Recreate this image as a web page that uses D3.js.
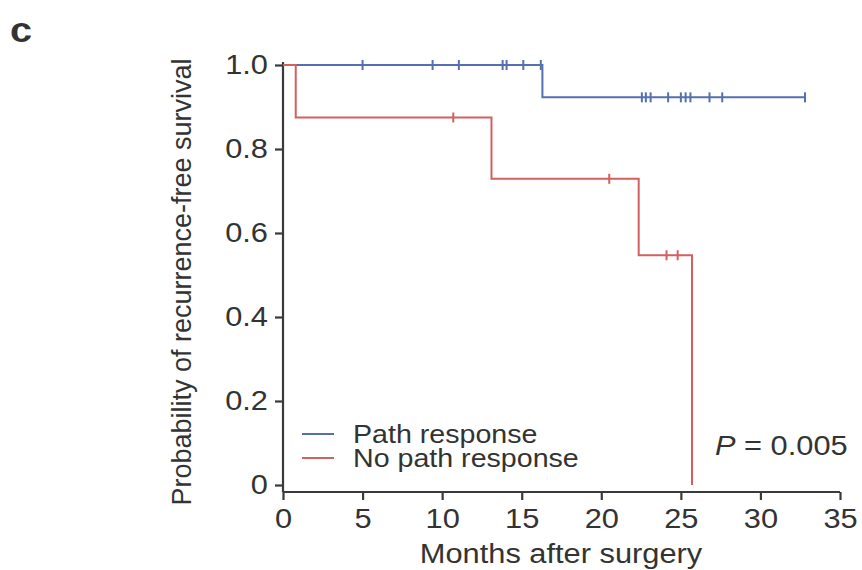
<!DOCTYPE html>
<html>
<head>
<meta charset="utf-8">
<script src="https://d3js.org/d3.v7.min.js"></script>
<style>
  body { margin: 0; background: #fff; }
  svg text { font-family: "Liberation Sans", Arial, sans-serif; fill: #333; }
</style>
</head>
<body>
<svg width="862" height="570"></svg>
<script>
// Kaplan-Meier steps
const pathTimes = [0, 16.3, 32.8];
const pathSurv = [1.0, 0.923, 0.923];
const pathCensor = [5.0, 9.4, 11.05, 13.8, 14.05, 15.1, 16.2, 22.55, 22.8, 23.1, 24.2, 25.0, 25.3, 25.6, 26.8, 27.6, 32.8];

const noPathTimes = [0, 0.8, 13.1, 22.35, 25.7, 25.7];
const noPathSurv = [1.0, 0.875, 0.729, 0.547, 0.547, 0.0];
const noPathCensor = [10.7, 20.5, 24.1, 24.8];

const xTicks = [0, 5, 10, 15, 20, 25, 30, 35];
const yTicks = [0, 0.2, 0.4, 0.6, 0.8, 1.0];
const legendLabels = ["Path response", "No path response"];
const colors = ["#5470b0", "#d2605f"];

const svg = d3.select("svg");
const x = d3.scaleLinear().domain([0, 35]).range([283, 840]);
const y = d3.scaleLinear().domain([0, 1]).range([485, 65]);
const SX = 1.1; // the figure's type is a bit wide

// survival at time t (step function)
function survAt(times, surv, t) {
  const i = d3.bisectRight(times, t) - 1;
  return surv[Math.max(0, i)];
}

// move x/y into a transform so text can be stretched sideways
function stretch(sel) {
  sel.each(function() {
    const t = d3.select(this);
    const tx = +t.attr("x") || 0, ty = +t.attr("y") || 0;
    t.attr("x", 0).attr("y", 0)
      .attr("transform", "translate(" + tx + "," + ty + ") scale(" + SX + ",1)");
  });
}

// axes
const yAxis = svg.append("g").attr("transform", "translate(283,0)")
  .call(d3.axisLeft(y).tickValues(yTicks).tickSize(8).tickPadding(7)
    .tickFormat(d => d === 0 ? "0" : d3.format(".1f")(d)));
yAxis.select(".domain").attr("d", "M0,62V492");

const xAxis = svg.append("g").attr("transform", "translate(0,492)")
  .call(d3.axisBottom(x).tickValues(xTicks).tickSize(8).tickPadding(8));
xAxis.select(".domain").attr("d", "M283,0H840");

svg.selectAll(".tick line, .domain").attr("stroke", "#3a3a3a").attr("stroke-width", 2.2);
svg.selectAll(".tick text").attr("font-size", 28).attr("fill", "#333")
  .attr("font-family", "Liberation Sans, Arial, sans-serif");
stretch(svg.selectAll(".tick text"));

// curves
const line = d3.line().x(d => x(d[0])).y(d => y(d[1])).curve(d3.curveStepAfter);
const groups = [
  {times: pathTimes, surv: pathSurv, cens: pathCensor, color: colors[0]},
  {times: noPathTimes, surv: noPathSurv, cens: noPathCensor, color: colors[1]}
];
groups.forEach(g => {
  svg.append("path")
    .datum(g.times.map((t, i) => [t, g.surv[i]]))
    .attr("d", line).attr("fill", "none")
    .attr("stroke", g.color).attr("stroke-width", 2);
  svg.selectAll(null).data(g.cens).enter().append("line")
    .attr("x1", d => x(d)).attr("x2", d => x(d))
    .attr("y1", d => y(survAt(g.times, g.surv, d)) - 5)
    .attr("y2", d => y(survAt(g.times, g.surv, d)) + 5)
    .attr("stroke", g.color).attr("stroke-width", 2);
});

// legend
legendLabels.forEach((lab, i) => {
  const ly = 434 + i * 24;
  svg.append("line").attr("x1", 302).attr("x2", 334).attr("y1", ly).attr("y2", ly)
    .attr("stroke", colors[i]).attr("stroke-width", 2);
  svg.append("text").attr("x", 353).attr("y", ly + 9).attr("font-size", 26)
    .attr("class", "wide").text(lab);
});

// p-value
const pt = svg.append("text").attr("x", 715).attr("y", 455).attr("font-size", 28)
  .attr("class", "wide");
pt.append("tspan").attr("font-style", "italic").text("P");
pt.append("tspan").text(" = 0.005");

// axis titles
svg.append("text").attr("x", 561).attr("y", 563).attr("text-anchor", "middle")
  .attr("font-size", 28).attr("class", "wide").text("Months after surgery");
svg.append("text").attr("transform", "translate(191,282) rotate(-90)")
  .attr("text-anchor", "middle").attr("font-size", 27)
  .text("Probability of recurrence-free survival");

// panel letter
svg.append("text").attr("x", 10).attr("y", 42).attr("font-size", 36)
  .attr("font-weight", "bold").attr("fill", "#111").attr("class", "wide").text("c");

stretch(svg.selectAll("text.wide"));
</script>
</body>
</html>
